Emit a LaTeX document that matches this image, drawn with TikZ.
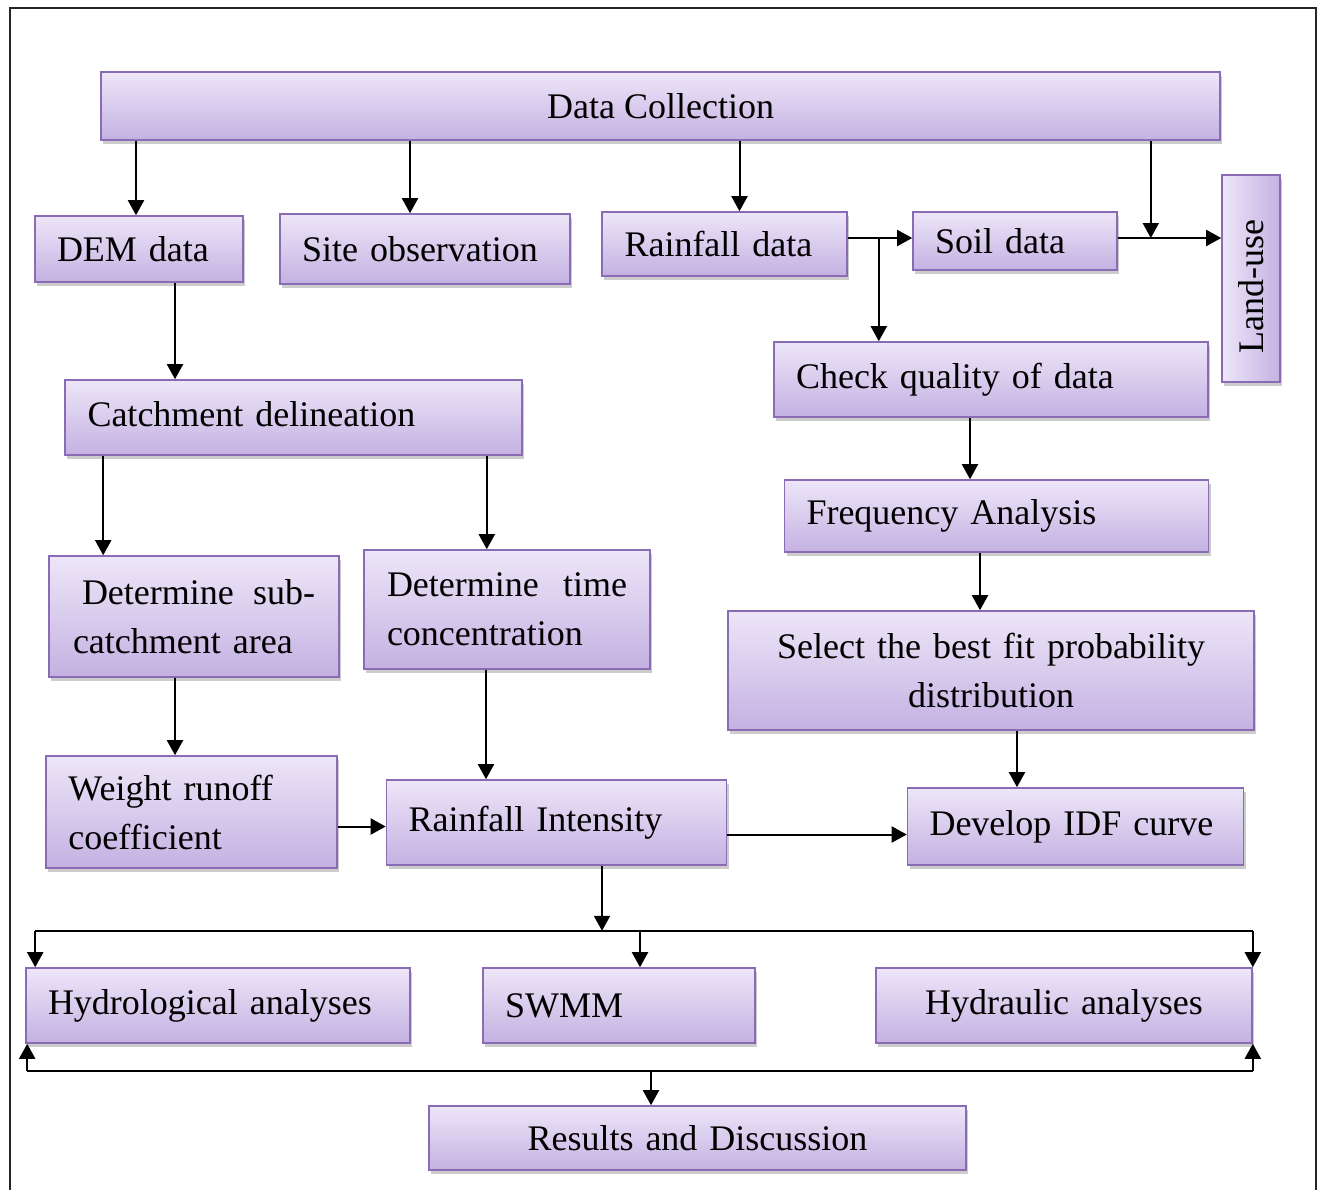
\documentclass[tikz,border=0pt]{standalone}
\usepackage{fontspec}
\setmainfont{Liberation Serif}
\usetikzlibrary{arrows.meta,shadows}

\definecolor{boxtop}{RGB}{237,230,248}
\definecolor{boxbot}{RGB}{196,177,226}
\definecolor{boxline}{RGB}{138,108,180}

\tikzset{
    procbox/.style={draw=boxline, line width=0.8pt, top color=boxtop, bottom color=boxbot,
        drop shadow={shadow xshift=1pt, shadow yshift=-2pt, opacity=.4},
        inner xsep=11pt, inner ysep=2pt, font=\fontsize{18}{24.5}\selectfont},
    arr/.style={line width=1pt, -{Triangle[length=7.5pt,width=8pt]}},
    bus/.style={line width=1pt}
}

\begin{document}
\begin{tikzpicture}[x=0.5pt, y=-0.5pt]
    \useasboundingbox (0,0) rectangle (1317,1190);
    % Rahmen
    \draw[line width=1pt, black!85] (10,1190) -- (10,8) -- (1316,8) -- (1316,1190);

    % Kaesten
    \node[procbox, minimum width=559.5pt, minimum height=34pt] (datacol) at (660.5,106) {Data Collection};
    \node[procbox, minimum width=104pt, minimum height=33pt, text width=82pt, align=left] (dem) at (139,249) {DEM data};
    \node[procbox, minimum width=145pt, minimum height=35pt, text width=123pt, align=left] (site) at (425,249) {Site observation};
    \node[procbox, minimum width=122.5pt, minimum height=32pt, text width=100pt, align=left] (rain) at (724.5,244) {Rainfall data};
    \node[procbox, minimum width=102pt, minimum height=29pt, text width=80pt, align=left] (soil) at (1015,241) {Soil data};
    \node[procbox, left color=boxtop, right color=boxbot, minimum width=29pt, minimum height=103.5pt, inner xsep=0pt] (landuse) at (1251,278.5) {\rotatebox{90}{Land-use\hspace{8pt}}};
    \node[procbox, minimum width=217pt, minimum height=37.5pt, text width=195pt, align=left] (check) at (991,379.5) {Check quality of data\vphantom{g}\\[-7pt]};
    \node[procbox, minimum width=228.5pt, minimum height=37.5pt, text width=206pt, align=left] (catch) at (293.5,417.5) {Catchment delineation\vphantom{g}\\[-7pt]};
    \node[procbox, minimum width=211.5pt, minimum height=36pt, text width=190pt, align=left] (freq) at (996.5,516) {Frequency Analysis};
    \node[procbox, minimum width=145pt, minimum height=60.5pt, text width=121pt, align=left] (detsub) at (194,616.5) {\hspace{4.5pt}Determine\hfill sub-\\catchment area\\[-6pt]};
    \node[procbox, minimum width=143pt, minimum height=59.5pt, text width=120pt, align=left] (dettime) at (507,609.5) {Determine\hfill time\\concentration};
    \node[procbox, minimum width=263pt, minimum height=59.5pt, text width=241pt, align=center] (select) at (991,670.5) {Select the best fit probability\\distribution};
    \node[procbox, minimum width=145.5pt, minimum height=56pt, text width=123pt, align=left] (weight) at (191.5,812) {Weight runoff\\coefficient};
    \node[procbox, minimum width=168.5pt, minimum height=42.5pt, text width=148pt, align=left] (intens) at (556.5,822.5) {Rainfall Intensity\vphantom{g}\\[-14pt]};
    \node[procbox, minimum width=167.5pt, minimum height=38.5pt, text width=146pt, align=left] (idf) at (1075.5,826.5) {Develop IDF curve\vphantom{g}\\[-7pt]};
    \node[procbox, minimum width=192pt, minimum height=37.5pt, text width=170pt, align=left] (hydro) at (218,1005.5) {Hydrological analyses};
    \node[procbox, minimum width=136pt, minimum height=37.5pt, text width=114pt, align=left] (swmm) at (619,1005.5) {SWMM};
    \node[procbox, minimum width=188pt, minimum height=37.5pt, text width=166pt, align=center] (hydra) at (1064,1005.5) {Hydraulic analyses};
    \node[procbox, minimum width=268.5pt, minimum height=32pt, text width=246pt, align=center] (results) at (697.5,1138) {Results and Discussion};

    % obere Verbindungen
    \draw[arr] ([xshift=-1.5pt]dem.north |- datacol.south) -- ([xshift=-1.5pt]dem.north);
    \draw[arr] ([xshift=-7.5pt]site.north |- datacol.south) -- ([xshift=-7.5pt]site.north);
    \draw[arr] ([xshift=7.5pt]rain.north |- datacol.south) -- ([xshift=7.5pt]rain.north);
    \coordinate (lujoin) at ([xshift=16.5pt,yshift=1.5pt]soil.east);
    \draw[arr] (lujoin |- datacol.south) -- (lujoin);
    \draw[arr] ([yshift=1.5pt]soil.east) -- ([yshift=1.5pt]soil.east -| landuse.west);
    \coordinate (rsplit) at ([xshift=15.5pt,yshift=1.5pt]rain.east |- soil.west);
    \draw[arr] ([yshift=1.5pt]rain.east |- soil.west) -- ([yshift=1.5pt]soil.west);
    \draw[arr] (rsplit) -- (rsplit |- check.north);

    % linke Seite
    \draw[arr] ([xshift=18pt]dem.south) -- ([xshift=18pt]dem.south |- catch.north);
    \draw[arr] ([xshift=19.5pt]catch.south west) -- ([xshift=19.5pt]catch.south west |- detsub.north);
    \draw[arr] ([xshift=-18pt]catch.south east) -- ([xshift=-18pt]catch.south east |- dettime.north);
    \draw[arr] ([xshift=-9.5pt]detsub.south) -- ([xshift=-9.5pt]detsub.south |- weight.north);
    \draw[arr] ([xshift=-10.5pt]dettime.south) -- ([xshift=-10.5pt]dettime.south |- intens.north);
    \draw[arr] ([yshift=-2pt]weight.east |- intens.west) -- ([yshift=-2pt]intens.west);
    \draw[arr] ([yshift=-4pt]intens.east |- idf.west) -- ([yshift=-4pt]idf.west);

    % rechte Seite
    \draw[arr] ([xshift=-10.5pt]check.south) -- ([xshift=-10.5pt]check.south |- freq.north);
    \draw[arr] ([xshift=-8.25pt]freq.south) -- ([xshift=-8.25pt]freq.south |- select.north);
    \draw[arr] ([xshift=13pt]select.south) -- ([xshift=13pt]select.south |- idf.north);

    % Verteiler unten
    \coordinate (bustop) at ([xshift=22.75pt,yshift=-32.5pt]intens.south);
    \draw[arr] ([xshift=22.75pt]intens.south) -- (bustop);
    \draw[bus] ([xshift=5pt]hydro.north west |- bustop) -- (hydra.north east |- bustop);
    \draw[arr] ([xshift=5pt]hydro.north west |- bustop) -- ([xshift=5pt]hydro.north west);
    \draw[arr] ([xshift=10.5pt]swmm.north |- bustop) -- ([xshift=10.5pt]swmm.north);
    \draw[arr] (hydra.north east |- bustop) -- (hydra.north east);

    \coordinate (busbot) at ([xshift=1pt,yshift=-13.5pt]hydro.south west);
    \draw[bus] (busbot) -- (busbot -| hydra.south east);
    \draw[arr] (busbot) -- ([xshift=1pt]hydro.south west);
    \draw[arr] (busbot -| hydra.south east) -- (hydra.south east);
    \draw[arr] ([xshift=-23.25pt]results.north |- busbot) -- ([xshift=-23.25pt]results.north);
\end{tikzpicture}
\end{document}
